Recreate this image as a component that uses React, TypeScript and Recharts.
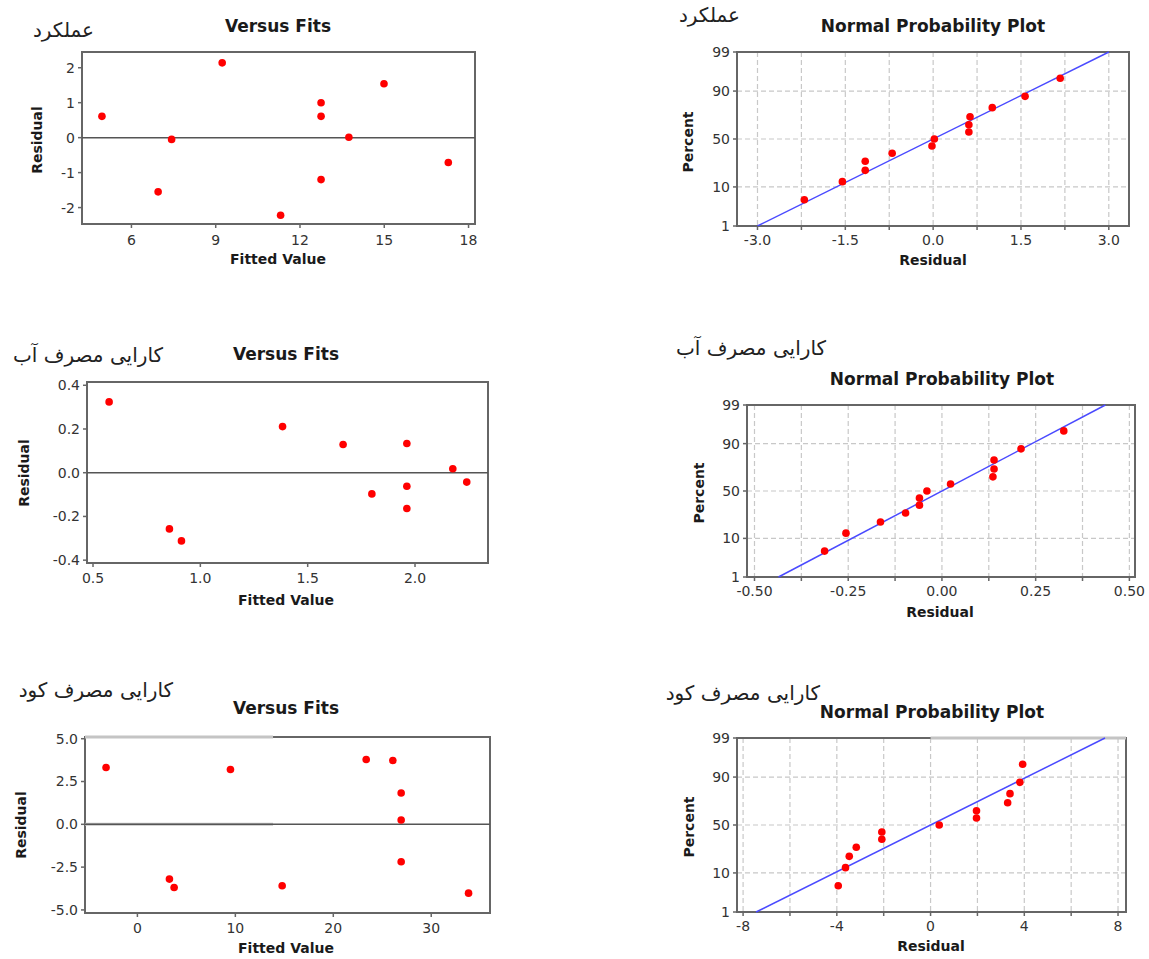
import React from 'react';
import {
  ScatterChart,
  Scatter,
  XAxis,
  YAxis,
  CartesianGrid,
  ReferenceLine,
  ReferenceArea,
} from 'recharts';

// ---------- Data ----------
// Panel titles (Persian)
const titleYield = 'عملکرد';
const titleWater = 'کارایی مصرف آب';
const titleFert = 'کارایی مصرف کود';

// Panel 1: Yield – residual versus fitted value
const yieldFitted = [4.95, 6.95, 7.43, 9.23, 11.31, 12.75, 12.75, 12.75, 13.74, 14.99, 17.28];
const yieldResidual = [0.61, -1.55, -0.05, 2.14, -2.22, 1.0, 0.61, -1.2, 0.01, 1.54, -0.71];
const yieldFitTicks = [6, 9, 12, 15, 18];
const yieldResidTicks = [-2, -1, 0, 1, 2];

// Normal probability plots: plotting positions (percent), common to all panels
const nppPercent = [5.2, 12.7, 20.1, 27.6, 35.1, 42.5, 50, 57.5, 64.9, 72.4, 79.9, 87.3, 94.8];
const percentTicks = [1, 10, 50, 90, 99];

// Panel 2: Yield – normal probability plot
const yieldNppResidual = [-2.2, -1.55, -1.16, -1.16, -0.7, -0.02, 0.02, 0.61, 0.61, 0.63, 1.01, 1.57, 2.17];
const yieldNppGrid = [-3, -2.25, -1.5, -0.75, 0, 0.75, 1.5, 2.25, 3];
const yieldNppLabels = [-3, -1.5, 0, 1.5, 3];
const yieldFitMean = 0;
const yieldFitSigma = 1.29;

// Panel 3: Water use efficiency – residual versus fitted value
const waterFitted = [0.575, 0.856, 0.912, 1.383, 1.665, 1.799, 1.962, 1.962, 1.962, 2.176, 2.241];
const waterResidual = [0.324, -0.257, -0.312, 0.211, 0.129, -0.097, 0.134, -0.062, -0.164, 0.018, -0.043];
const waterFitTicks = [0.5, 1.0, 1.5, 2.0];
const waterResidTicks = [-0.4, -0.2, 0, 0.2, 0.4];

// Panel 4: Water use efficiency – normal probability plot
const waterNppResidual = [-0.313, -0.256, -0.164, -0.097, -0.06, -0.06, -0.04, 0.023, 0.136, 0.139, 0.139, 0.211, 0.325];
const waterNppGrid = [-0.5, -0.375, -0.25, -0.125, 0, 0.125, 0.25, 0.375, 0.5];
const waterNppLabels = [-0.5, -0.25, 0, 0.25, 0.5];
const waterFitMean = 0;
const waterFitSigma = 0.1874;

// Panel 5: Fertilizer use efficiency – residual versus fitted value
const fertFitted = [-3.2, 3.27, 3.75, 9.5, 14.78, 23.36, 26.08, 26.93, 26.93, 26.93, 33.81];
const fertResidual = [3.32, -3.2, -3.69, 3.2, -3.59, 3.79, 3.73, 1.83, 0.25, -2.19, -4.02];
const fertFitTicks = [0, 10, 20, 30];
const fertResidTicks = [-5, -2.5, 0, 2.5, 5];

// Panel 6: Fertilizer use efficiency – normal probability plot
const fertNppResidual = [-3.94, -3.63, -3.47, -3.17, -2.08, -2.08, 0.37, 1.96, 1.96, 3.29, 3.39, 3.81, 3.93];
const fertNppGrid = [-8, -6, -4, -2, 0, 2, 4, 6, 8];
const fertNppLabels = [-8, -4, 0, 4, 8];
const fertFitMean = 0;
const fertFitSigma = 3.2;

// ---------- Helpers ----------
const FONT = '"DejaVu Sans", Verdana, sans-serif';

function probit(p: number): number {
  const a = [-3.969683028665376e1, 2.209460984245205e2, -2.759285104469687e2, 1.38357751867269e2, -3.066479806614716e1, 2.506628277459239];
  const b = [-5.447609879822406e1, 1.615858368580409e2, -1.556989798598866e2, 6.680131188771972e1, -1.328068155288572e1];
  const c = [-7.784894002430293e-3, -3.223964580411365e-1, -2.400758277161838, -2.549671010029010, 4.374664141464968, 2.938163982698783];
  const d = [7.784695709041462e-3, 3.224671290700398e-1, 2.445134137142996, 3.754408661907416];
  const plow = 0.02425;
  const phigh = 1 - plow;
  if (p < plow) {
    const q = Math.sqrt(-2 * Math.log(p));
    return (((((c[0] * q + c[1]) * q + c[2]) * q + c[3]) * q + c[4]) * q + c[5]) /
      ((((d[0] * q + d[1]) * q + d[2]) * q + d[3]) * q + 1);
  }
  if (p <= phigh) {
    const q = p - 0.5;
    const r = q * q;
    return ((((((a[0] * r + a[1]) * r + a[2]) * r + a[3]) * r + a[4]) * r + a[5]) * q) /
      (((((b[0] * r + b[1]) * r + b[2]) * r + b[3]) * r + b[4]) * r + 1);
  }
  const q = Math.sqrt(-2 * Math.log(1 - p));
  return -(((((c[0] * q + c[1]) * q + c[2]) * q + c[3]) * q + c[4]) * q + c[5]) /
    ((((d[0] * q + d[1]) * q + d[2]) * q + d[3]) * q + 1);
}

const zTicks = percentTicks.map((p) => probit(p / 100));
const zMin = probit(0.01);
const zMax = probit(0.99);
const zFmt = (v: number) => {
  const i = zTicks.findIndex((t) => Math.abs(t - v) < 1e-6);
  return i >= 0 ? String(percentTicks[i]) : '';
};

const zip = (xs: number[], ys: number[]) => xs.map((x, i) => ({ x, y: ys[i] }));
const nppData = (res: number[]) => res.map((x, i) => ({ x, y: probit(nppPercent[i] / 100) }));
const labelFmt = (labels: number[], digits: number) => (v: number) =>
  labels.some((l) => Math.abs(l - v) < 1e-9) ? v.toFixed(digits) : '';

const Dot = (props: any) => {
  const { cx, cy } = props;
  if (cx == null || cy == null) return null;
  return <circle cx={cx} cy={cy} r={3.8} fill="#ff0000" />;
};

type PlotProps = {
  L: number; T: number; R: number; B: number;
  data: { x: number; y: number }[];
  xDomain: [number, number]; yDomain: [number, number];
  xTicks: number[]; yTicks: number[];
  xFmt: (v: number) => string; yFmt: (v: number) => string;
  zeroLine?: boolean; grid?: boolean;
  fit?: { mean: number; sigma: number };
  fades?: { x1: number; x2: number; y: number }[];
  xTickMargin?: number;
};

function Plot(p: PlotProps) {
  const yW = 60;
  const xH = 30;
  const padTop = 12;
  const padRight = 22;
  const tickStyle = { fill: '#333', fontSize: 14, fontFamily: FONT };
  return (
    <div style={{ position: 'absolute', left: p.L - yW, top: p.T - padTop }}>
      <ScatterChart
        width={yW + (p.R - p.L) + padRight}
        height={p.B - p.T + xH + padTop}
        margin={{ top: padTop, right: padRight, bottom: 0, left: 0 }}
      >
        {p.grid && <CartesianGrid stroke="#c8c8c8" strokeDasharray="5 3" strokeWidth={1.2} />}
        <XAxis
          type="number"
          dataKey="x"
          domain={p.xDomain}
          ticks={p.xTicks}
          tickFormatter={p.xFmt}
          allowDataOverflow
          interval={0}
          axisLine={false}
          tickLine={{ stroke: '#666', strokeWidth: 1.5 }}
          tickSize={4}
          tickMargin={p.xTickMargin ?? 5}
          height={xH}
          tick={tickStyle}
        />
        <YAxis
          type="number"
          dataKey="y"
          domain={p.yDomain}
          ticks={p.yTicks}
          tickFormatter={p.yFmt}
          allowDataOverflow
          interval={0}
          axisLine={false}
          tickLine={{ stroke: '#666', strokeWidth: 1.5 }}
          tickSize={4}
          tickMargin={3}
          width={yW}
          tick={tickStyle}
        />
        <ReferenceArea
          x1={p.xDomain[0]}
          x2={p.xDomain[1]}
          y1={p.yDomain[0]}
          y2={p.yDomain[1]}
          fill="none"
          fillOpacity={0}
          stroke="#666"
          strokeWidth={2}
          ifOverflow="visible"
        />
        {p.fades &&
          p.fades.map((f, i) => (
            <ReferenceLine
              key={i}
              segment={[{ x: f.x1, y: f.y }, { x: f.x2, y: f.y }]}
              stroke="#c4c4c4"
              strokeWidth={3}
              ifOverflow="visible"
            />
          ))}
        {p.zeroLine && <ReferenceLine y={0} stroke="#555" strokeWidth={1.5} />}
        {p.fit && (
          <ReferenceLine
            segment={[
              { x: p.fit.mean + p.fit.sigma * zMin, y: zMin },
              { x: p.fit.mean + p.fit.sigma * zMax, y: zMax },
            ]}
            stroke="#4a4aff"
            strokeWidth={1.5}
            ifOverflow="visible"
          />
        )}
        <Scatter data={p.data} shape={<Dot />} isAnimationActive={false} />
      </ScatterChart>
    </div>
  );
}

const Txt = ({ x, y, children, size = 14, bold = true, rotate = false }: any) => (
  <div
    style={{
      position: 'absolute',
      left: x,
      top: y,
      transform: `translate(-50%, -50%)${rotate ? ' rotate(-90deg)' : ''}`,
      fontFamily: FONT,
      fontSize: size,
      fontWeight: bold ? 'bold' : 'normal',
      color: '#1a1a1a',
      whiteSpace: 'nowrap',
      lineHeight: 1,
    }}
  >
    {children}
  </div>
);

const Persian = ({ right, y, children }: any) => (
  <div
    dir="rtl"
    style={{
      position: 'absolute',
      right: 1149 - right,
      top: y,
      transform: 'translateY(-50%)',
      fontFamily: FONT,
      fontSize: 20,
      color: '#222',
      whiteSpace: 'nowrap',
      lineHeight: 1.2,
    }}
  >
    {children}
  </div>
);

export default function App() {
  return (
    <div style={{ position: 'absolute', left: 0, top: 0, width: 1149, height: 959, background: '#fff', overflow: 'hidden' }}>
      {/* Panel 1 */}
      <Persian right={94} y={30}>{titleYield}</Persian>
      <Txt x={278} y={26} size={17}>Versus Fits</Txt>
      <Plot
        L={82} T={52} R={475} B={224}
        data={zip(yieldFitted, yieldResidual)}
        xDomain={[4.24, 18.23]} yDomain={[-2.47, 2.45]}
        xTicks={yieldFitTicks} yTicks={yieldResidTicks}
        xFmt={(v) => String(v)} yFmt={(v) => String(v)}
        zeroLine xTickMargin={7}
      />
      <Txt x={37} y={140} rotate>Residual</Txt>
      <Txt x={278} y={259}>Fitted Value</Txt>

      {/* Panel 2 */}
      <Persian right={740} y={15}>{titleYield}</Persian>
      <Txt x={933} y={26} size={17}>Normal Probability Plot</Txt>
      <Plot
        L={737} T={52} R={1129} B={226}
        data={nppData(yieldNppResidual)}
        xDomain={[-3.35, 3.345]} yDomain={[zMin, zMax]}
        xTicks={yieldNppGrid} yTicks={zTicks}
        xFmt={labelFmt(yieldNppLabels, 1)} yFmt={zFmt}
        grid fit={{ mean: yieldFitMean, sigma: yieldFitSigma }}
      />
      <Txt x={688} y={142} rotate>Percent</Txt>
      <Txt x={933} y={260}>Residual</Txt>

      {/* Panel 3 */}
      <Persian right={163} y={355}>{titleWater}</Persian>
      <Txt x={286} y={354} size={17}>Versus Fits</Txt>
      <Plot
        L={87} T={382} R={488} B={563}
        data={zip(waterFitted, waterResidual)}
        xDomain={[0.472, 2.34]} yDomain={[-0.413, 0.415]}
        xTicks={waterFitTicks} yTicks={waterResidTicks}
        xFmt={(v) => v.toFixed(1)} yFmt={(v) => v.toFixed(1)}
        zeroLine xTickMargin={6}
      />
      <Txt x={24} y={473} rotate>Residual</Txt>
      <Txt x={286} y={600}>Fitted Value</Txt>

      {/* Panel 4 */}
      <Persian right={826} y={348}>{titleWater}</Persian>
      <Txt x={942} y={379} size={17}>Normal Probability Plot</Txt>
      <Plot
        L={747} T={405} R={1135} B={577}
        data={nppData(waterNppResidual)}
        xDomain={[-0.52, 0.515]} yDomain={[zMin, zMax]}
        xTicks={waterNppGrid} yTicks={zTicks}
        xFmt={labelFmt(waterNppLabels, 2)} yFmt={zFmt}
        grid fit={{ mean: waterFitMean, sigma: waterFitSigma }}
      />
      <Txt x={699} y={493} rotate>Percent</Txt>
      <Txt x={940} y={612}>Residual</Txt>

      {/* Panel 5 */}
      <Persian right={173} y={690}>{titleFert}</Persian>
      <Txt x={286} y={708} size={17}>Versus Fits</Txt>
      <Plot
        L={85} T={737} R={490} B={913}
        data={zip(fertFitted, fertResidual)}
        xDomain={[-5.35, 36.0]} yDomain={[-5.18, 5.1]}
        xTicks={fertFitTicks} yTicks={fertResidTicks}
        xFmt={(v) => String(v)} yFmt={(v) => v.toFixed(1)}
        zeroLine xTickMargin={6}
        fades={[{ x1: -5.35, x2: 13.85, y: 5.1 }, { x1: -5.35, x2: 13.85, y: 0 }]}
      />
      <Txt x={21} y={825} rotate>Residual</Txt>
      <Txt x={286} y={948}>Fitted Value</Txt>

      {/* Panel 6 */}
      <Persian right={820} y={693}>{titleFert}</Persian>
      <Txt x={932} y={712} size={17}>Normal Probability Plot</Txt>
      <Plot
        L={737} T={738} R={1126} B={912}
        data={nppData(fertNppResidual)}
        xDomain={[-8.26, 8.34]} yDomain={[zMin, zMax]}
        xTicks={fertNppGrid} yTicks={zTicks}
        xFmt={labelFmt(fertNppLabels, 0)} yFmt={zFmt}
        grid fit={{ mean: fertFitMean, sigma: fertFitSigma }}
        fades={[{ x1: 0, x2: 8.34, y: zMax }]}
      />
      <Txt x={689} y={827} rotate>Percent</Txt>
      <Txt x={931} y={946}>Residual</Txt>
    </div>
  );
}
